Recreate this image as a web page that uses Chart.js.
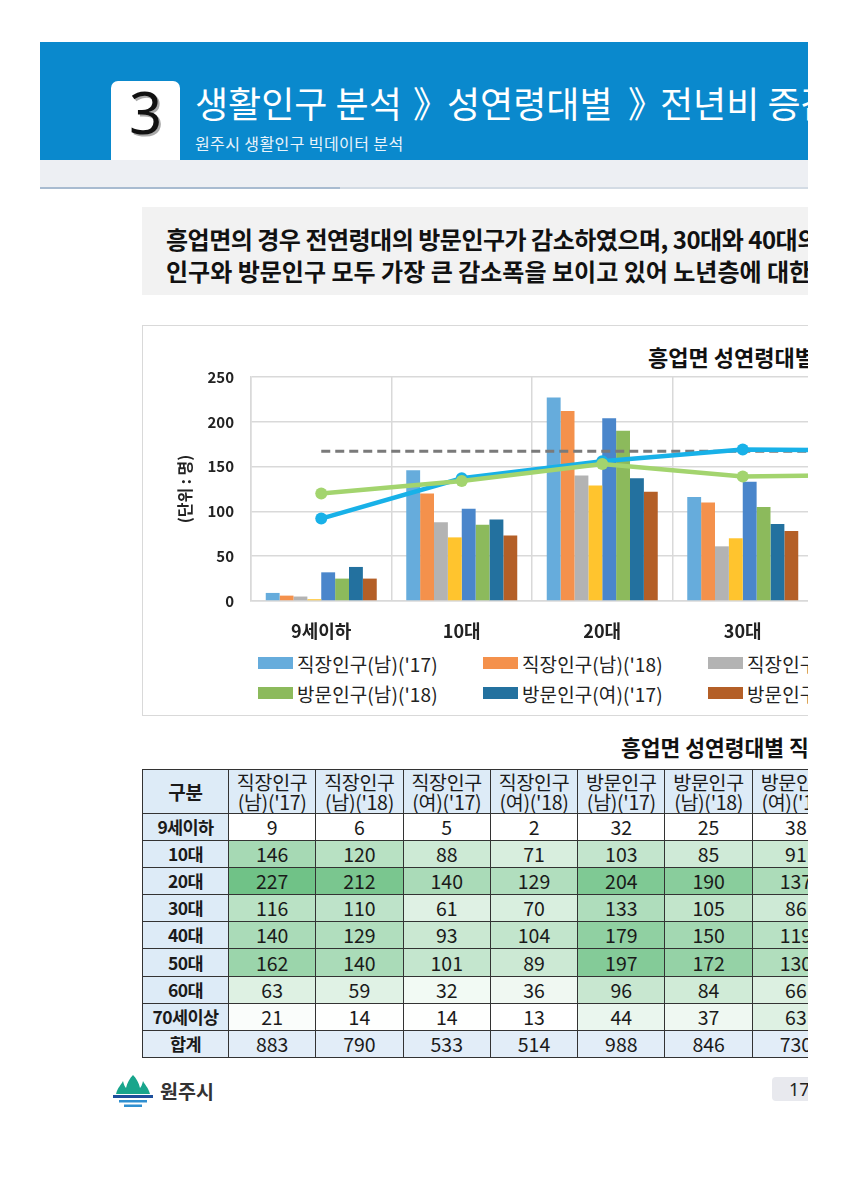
<!DOCTYPE html>
<html><head><meta charset="utf-8">
<script src="https://cdn.jsdelivr.net/npm/chart.js@4.4.1/dist/chart.umd.min.js"></script>
<style>
html,body{margin:0;padding:0;background:#fff;}
#page{position:relative;width:808px;height:1200px;overflow:hidden;font-family:"Noto Sans CJK KR","Noto Sans",sans-serif;color:#111;}
.abs{position:absolute;white-space:nowrap;line-height:1;}
#band{left:40px;top:42px;width:800px;height:118px;background:#0A89CD;}
#tab{left:111px;top:81px;width:69px;height:80px;background:#fff;border-radius:7px 7px 0 0;}
#num{left:111px;top:83px;width:69px;height:58px;line-height:58px;text-align:center;font-family:"Noto Sans",sans-serif;font-size:58px;color:#111;text-shadow:2px 2px 0 #aaa;}
.ht{top:84px;font-size:36px;color:#fff;}
#hsub{left:195px;top:135px;font-size:16px;color:#eaf4fb;letter-spacing:0.4px;}
#gband{left:40px;top:160px;width:800px;height:27px;background:#EDEFF3;}
#gline{left:40px;top:187px;width:800px;height:2px;background:linear-gradient(to right,#A8BBD0 0,#A8BBD0 300px,#D3DBE4 300px);}
#summary{left:142px;top:207px;width:700px;height:88px;background:#F2F2F2;}
.sline{font-size:24px;font-weight:bold;color:#111;left:166px;line-height:32px;}
#cbox{left:142px;top:325px;width:700px;height:391px;border:1px solid #D9D9D9;background:#fff;box-sizing:border-box;}
#ctitle{left:648px;top:345px;font-size:22px;font-weight:bold;color:#111;}
#cwrap{position:absolute;left:142px;top:340px;width:1250px;height:300px;}
#legend{position:absolute;left:258px;top:648px;}
.lrow{display:flex;height:30px;align-items:center;}
.litem{width:225px;flex:0 0 225px;display:flex;align-items:center;font-size:19px;letter-spacing:0.1px;color:#222;white-space:nowrap;}
.lbox{width:35px;height:12px;margin-right:4px;flex:0 0 35px;}
#ttitle{left:621px;top:736px;font-size:21.5px;font-weight:bold;color:#111;}
#tbl{position:absolute;left:142px;top:769px;border-collapse:collapse;table-layout:fixed;width:785px;}
#tbl td,#tbl th{border:1px solid #333;padding:0;text-align:center;color:#1a1a1a;white-space:nowrap;overflow:hidden;}
#tbl th{background:#DDEBF7;font-weight:normal;font-size:19.5px;line-height:20px;height:43px;letter-spacing:-0.3px;}
#tbl th.first{font-weight:bold;font-size:19px;}
#tbl td{height:26.1px;font-size:19.5px;line-height:20px;}
#tbl td.rl{background:#DDEBF7;font-weight:bold;font-size:17.5px;letter-spacing:-0.6px;}
#tbl tr.sum td{background:#E2EDF8;}
#logo{left:113px;top:1075px;}
#wj{left:160px;top:1081px;font-size:19.5px;font-weight:bold;color:#333;}
#pn{left:772px;top:1077px;width:60px;height:24px;background:#E8E9EE;border-radius:4px;}
#pnt{left:789px;top:1080px;font-size:18px;font-family:"Noto Sans",sans-serif;color:#222;line-height:18px;}
</style>
</head><body>
<div id="page">
  <div class="abs" id="band"></div>
  <div class="abs" id="tab"></div>
  <div class="abs" id="num">3</div>
  <div class="abs ht" style="left:195px;">생활인구 분석</div>
  <div class="abs ht" style="left:413px;">》</div>
  <div class="abs ht" style="left:447px;">성연령대별</div>
  <div class="abs ht" style="left:628px;">》</div>
  <div class="abs ht" style="left:660px;">전년비 증감</div>
  <div class="abs" id="hsub">원주시 생활인구 빅데이터 분석</div>
  <div class="abs" id="gband"></div>
  <div class="abs" id="gline"></div>
  <div class="abs" id="summary"></div>
  <div class="abs sline" style="top:223px;letter-spacing:-0.5px;">흥업면의 경우 전연령대의 방문인구가 감소하였으며, 30대와 40대의 직장인구는 소폭 증가</div>
  <div class="abs sline" style="top:255px;">인구와 방문인구 모두 가장 큰 감소폭을 보이고 있어 노년층에 대한 관심 필요</div>
  <div class="abs" id="cbox"></div>
  <div class="abs" id="ctitle">흥업면 성연령대별 직장·방문인구 현황</div>
  <div id="cwrap"><canvas id="chart"></canvas></div>
  <div id="legend"></div>
  <div class="abs" id="ttitle">흥업면 성연령대별 직장·방문인구 현황</div>
  <table id="tbl"></table>
  <svg class="abs" id="logo" width="40" height="34" viewBox="0 0 40 34">
    <path d="M3 19 C5 12 8 10 10 6 C11 10 12 12 13 13 C14 8 17 3 20 0 C23 3 26 8 27 13 C28 12 29 10 30 6 C32 10 35 12 37 19 Z" fill="#18A58C"/>
    <rect x="0" y="20" width="40" height="3" fill="#1E4F9C"/>
    <rect x="6" y="25" width="28" height="2.5" fill="#2F8FD0"/>
    <rect x="11" y="29.5" width="18" height="2.5" fill="#2F8FD0"/>
  </svg>
  <div class="abs" id="wj">원주시</div>
  <div class="abs" id="pn"></div>
  <div class="abs" id="pnt">17</div>
</div>
<script>
// ---------- data ----------
const categories = ['9세이하','10대','20대','30대','40대','50대','60대','70세이상'];
const seriesLabels = ["직장인구(남)('17)","직장인구(남)('18)","직장인구(여)('17)","직장인구(여)('18)",
                      "방문인구(남)('17)","방문인구(남)('18)","방문인구(여)('17)","방문인구(여)('18)"];
const seriesColors = ['#66ACDC','#F4914C','#B3B3B3','#FFC42E','#4A86CB','#8CBA5C','#23719F','#B45F27'];
const workMale17   = [9,146,227,116,140,162,63,21];
const workMale18   = [6,120,212,110,129,140,59,14];
const workFemale17 = [5,88,140,61,93,101,32,14];
const workFemale18 = [2,71,129,70,104,89,36,13];
const visitMale17  = [32,103,204,133,179,197,96,44];
const visitMale18  = [25,85,190,105,150,172,84,37];
const visitFemale17= [38,91,137,86,119,130,66,63];
const visitFemale18= [25,73,122,78,104,112,57,55];
const totals = [883,790,533,514,988,846,730,626];
const lineLabels = ["방문인구 평균('17)","방문인구 평균('18)","전체 평균"];
const lineColors = ['#18B1E8','#A3D46E','#7A7A7A'];
const lineBlue  = [92,137,156,169,168,170,150,130];
const lineGreen = [120,134,153,139,141,146,128,110];
const lineAvg   = [167,167,167,167,167,167,167,167];
const yTicks = [0,50,100,150,200,250];
const barSeries = [workMale17,workMale18,workFemale17,workFemale18,visitMale17,visitMale18,visitFemale17,visitFemale18];

// ---------- chart ----------
const FF = '"Noto Sans CJK KR","Noto Sans",sans-serif';
Chart.defaults.font.family = FF;
const datasets = barSeries.map((d,i)=>({
  type:'bar', label:seriesLabels[i], data:d, backgroundColor:seriesColors[i],
  borderWidth:0, order:3, categoryPercentage:0.79, barPercentage:1.0
}));
datasets.push({type:'line',label:lineLabels[0],data:lineBlue,borderColor:lineColors[0],backgroundColor:lineColors[0],
  borderWidth:4.5,pointRadius:6,pointHoverRadius:6,pointBackgroundColor:lineColors[0],pointBorderWidth:0,tension:0,order:1});
datasets.push({type:'line',label:lineLabels[1],data:lineGreen,borderColor:lineColors[1],backgroundColor:lineColors[1],
  borderWidth:4.5,pointRadius:6,pointHoverRadius:6,pointBackgroundColor:lineColors[1],pointBorderWidth:0,tension:0,order:0});
datasets.push({type:'line',label:lineLabels[2],data:lineAvg,borderColor:lineColors[2],backgroundColor:lineColors[2],
  borderWidth:3,borderDash:[9,5],pointRadius:0,tension:0,order:2});

new Chart(document.getElementById('chart'),{
  type:'bar',
  data:{labels:categories,datasets},
  options:{
    responsive:true, maintainAspectRatio:false, animation:false,
    layout:{padding:{left:33,top:37,right:17,bottom:0}},
    plugins:{legend:{display:false},tooltip:{enabled:false},title:{display:false}},
    scales:{
      x:{
        offset:true,
        grid:{offset:true,color:'#D9D9D9',lineWidth:1.5,drawTicks:false},
        border:{color:'#D9D9D9',width:1.5},
        ticks:{font:{size:18,weight:'bold'},color:'#222',padding:19,maxRotation:0,autoSkip:false},
        afterFit:s=>{s.height=39;}
      },
      y:{
        min:0,max:250,
        afterBuildTicks:s=>{s.ticks=yTicks.map(v=>({value:v}));},
        grid:{color:'#D9D9D9',lineWidth:1.5,drawTicks:false},
        border:{color:'#D9D9D9',width:1.5},
        ticks:{font:{size:15,weight:'bold'},color:'#222',padding:17},
        title:{display:true,text:'(단위 : 명)',font:{size:16,weight:'bold'},color:'#222',padding:{top:0,bottom:0}},
        afterFit:s=>{s.width=76;}
      }
    }
  }
});

// ---------- legend (HTML, built from the series arrays) ----------
const legendItems = seriesLabels.map((l,i)=>({label:l,color:seriesColors[i],line:false}))
  .concat(lineLabels.map((l,i)=>({label:l,color:lineColors[i],line:true})));
const rows = [legendItems.slice(0,5), legendItems.slice(5)];
const lg = document.getElementById('legend');
rows.forEach(r=>{
  const row=document.createElement('div'); row.className='lrow';
  r.forEach(it=>{
    const d=document.createElement('div'); d.className='litem';
    const b=document.createElement('span'); b.className='lbox';
    if(it.line){b.style.height='4px';b.style.background=it.color;} else b.style.background=it.color;
    const t=document.createElement('span'); t.textContent=it.label;
    d.appendChild(b); d.appendChild(t); row.appendChild(d);
  });
  lg.appendChild(row);
});

// ---------- table ----------
const tblHeads = [["직장인구","(남)('17)"],["직장인구","(남)('18)"],["직장인구","(여)('17)"],["직장인구","(여)('18)"],
                  ["방문인구","(남)('17)"],["방문인구","(남)('18)"],["방문인구","(여)('17)"],["방문인구","(여)('18)"]];
const tbl = document.getElementById('tbl');
let html = '<colgroup><col style="width:86px">' + tblHeads.map(()=>'<col style="width:87.3px">').join('') + '</colgroup>';
html += '<tr><th class="first">구분</th>' + tblHeads.map(h=>`<th>${h[0]}<br>${h[1]}</th>`).join('') + '</tr>';
const vals=[]; for(let r=1;r<categories.length;r++) barSeries.forEach(s=>vals.push(s[r]));
const vmin=Math.min(...vals), vmax=Math.max(...vals);
const c0=[255,255,255], c1=[112,194,135];
function heat(v){const t=(v-vmin)/(vmax-vmin);return 'rgb('+c0.map((c,i)=>Math.round(c+(c1[i]-c)*t)).join(',')+')';}
categories.forEach((cat,r)=>{
  html += `<tr><td class="rl">${cat}</td>` + barSeries.map(s=>{
    const bg = r===0 ? '#fff' : heat(s[r]);
    return `<td style="background:${bg}">${s[r]}</td>`;}).join('') + '</tr>';
});
html += '<tr class="sum"><td class="rl">합계</td>' + totals.map(v=>`<td>${v}</td>`).join('') + '</tr>';
tbl.innerHTML = html;
</script>
</body></html>
